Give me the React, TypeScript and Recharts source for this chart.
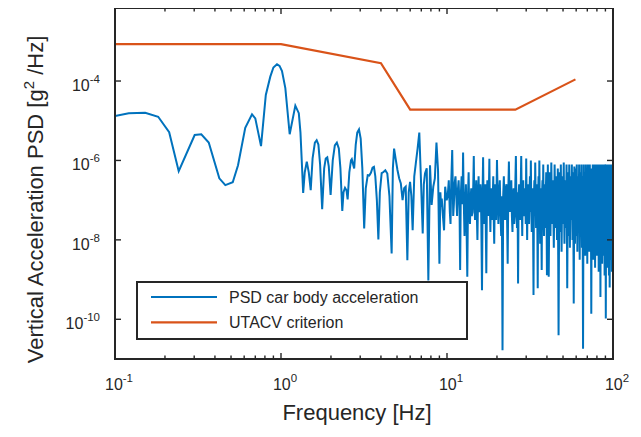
import React from 'react';
import { LineChart, Line, XAxis, YAxis, ReferenceArea } from 'recharts';

// PSD of car body vertical acceleration: [frequency (Hz), log10(PSD in g^2/Hz)]
const PSD_LOW: [number, number][] = [
  [0.1, -4.88], [0.121, -4.81], [0.152, -4.8], [0.182, -4.9], [0.212, -5.29], [0.242, -6.27],
  [0.302, -5.36], [0.331, -5.34], [0.367, -5.55], [0.425, -6.45], [0.462, -6.62], [0.512, -6.55],
  [0.551, -6.12], [0.609, -5.18], [0.669, -4.84], [0.7, -4.94], [0.758, -5.64], [0.81, -4.35],
  [0.862, -3.89], [0.9, -3.66], [0.946, -3.58], [0.98, -3.62], [1.014, -3.75], [1.062, -4.18],
  [1.128, -5.34], [1.22, -4.62],
];

const PSD_MID: [number, number][] = [
  [1.28, -4.81], [1.31, -5.3], [1.34, -6.2], [1.36, -6.82], [1.39, -6.3], [1.43, -6.03], [1.47, -6.3],
  [1.51, -6.75], [1.55, -5.95], [1.6, -5.55], [1.64, -5.49], [1.68, -5.6], [1.72, -6.1], [1.77, -7.23],
  [1.82, -6.2], [1.86, -5.95], [1.9, -5.92], [1.94, -6.15], [1.99, -6.87], [2.05, -6.0], [2.11, -5.62],
  [2.17, -5.55], [2.23, -5.7], [2.28, -6.2], [2.34, -7.27], [2.38, -6.8], [2.43, -6.69], [2.48, -6.75],
  [2.52, -6.98], [2.58, -6.3], [2.64, -6.0], [2.67, -5.97], [2.72, -6.1], [2.76, -6.2], [2.82, -5.6],
  [2.88, -5.3], [2.95, -5.22], [3.02, -5.45], [3.09, -6.2], [3.17, -7.71], [3.24, -6.7], [3.33, -6.37],
  [3.4, -6.38], [3.48, -6.31], [3.56, -6.18], [3.63, -6.16], [3.7, -6.4], [3.78, -7.0], [3.86, -7.99],
  [3.94, -6.8], [4.04, -6.32], [4.14, -6.29], [4.25, -6.25], [4.37, -6.33], [4.5, -6.9], [4.64, -8.34],
  [4.72, -6.2], [4.8, -5.7], [4.9, -5.95], [5.03, -6.24], [5.15, -6.45], [5.27, -6.58], [5.4, -7.0],
  [5.52, -6.7], [5.64, -6.66], [5.77, -8.51], [5.88, -6.8], [5.99, -6.54], [6.1, -6.9], [6.21, -7.76],
  [6.35, -6.4], [6.49, -6.07], [6.65, -5.7], [6.81, -5.3], [6.97, -6.5], [7.14, -7.84], [7.25, -6.6],
  [7.37, -6.33], [7.55, -6.2], [7.72, -9.02], [7.9, -6.12], [8.08, -7.12], [8.27, -6.66], [8.45, -6.45],
  [8.64, -5.55], [8.83, -6.24], [9.0, -8.6], [9.12, -6.8], [9.22, -7.17], [9.3, -6.96], [9.45, -7.4],
  [9.6, -7.76], [9.75, -6.66], [9.95, -7.0],
];

const PSD_HIGH: [number, number][] = [
  [10.1, -6.9], [10.25, -6.5], [10.4, -7.3], [10.5, -7.6], [10.6, -6.6], [10.75, -5.74], [10.9, -7.4],
  [11, -7.1], [11.1, -6.6], [11.25, -6.4], [11.4, -7.0], [11.5, -7.4], [11.6, -6.8], [11.75, -6.5],
  [11.9, -7.2], [12, -8.76], [12.1, -6.9], [12.25, -6.4], [12.4, -7.1], [12.5, -5.8], [12.6, -6.9],
  [12.75, -7.9], [12.9, -7.0], [13, -6.6], [13.1, -7.5], [13.25, -8.93], [13.4, -6.8], [13.5, -6.3],
  [13.6, -7.2], [13.75, -7.6], [13.9, -6.9], [14, -6.7], [14.1, -7.4], [14.25, -7.3], [14.4, -6.6],
  [14.5, -5.89], [14.6, -7.0], [14.75, -7.5], [14.9, -6.9], [15, -6.5], [15.1, -7.2], [15.25, -8.0],
  [15.4, -6.8], [15.5, -6.4], [15.6, -7.1], [15.75, -7.3], [15.9, -6.6], [16, -6.8], [16.1, -7.6],
  [16.25, -9.27], [16.4, -6.7], [16.5, -5.92], [16.6, -6.9], [16.75, -7.6], [16.9, -6.8], [17, -6.6],
  [17.1, -7.4], [17.25, -8.84], [17.4, -6.9], [17.5, -6.5], [17.6, -7.2], [17.75, -7.4], [17.9, -6.6],
  [18, -5.96], [18.1, -7.0], [18.25, -7.8], [18.4, -6.9], [18.5, -6.7], [18.6, -7.5], [18.75, -7.3],
  [18.9, -6.8], [19, -6.4], [19.1, -7.3], [19.25, -8.1], [19.4, -6.9], [19.5, -6.6], [19.6, -7.2],
  [19.75, -7.5], [19.9, -6.7],
  [20, -5.99], [20.2, -6.9], [20.4, -7.6], [20.6, -6.8], [20.8, -6.5], [21, -7.3], [21.2, -7.9],
  [21.4, -6.9], [21.6, -10.78], [21.8, -6.9], [22, -6.4], [22.2, -7.2], [22.4, -7.5], [22.6, -6.7],
  [22.8, -6.6], [23, -7.4], [23.2, -8.6], [23.4, -6.8], [23.6, -6.03], [23.8, -7.0], [24, -7.3],
  [24.2, -6.8], [24.4, -6.5], [24.6, -7.4], [24.8, -7.8], [25, -6.9], [25.2, -6.7], [25.4, -7.6],
  [25.6, -7.4], [25.8, -6.6], [26, -5.89], [26.2, -7.1], [26.4, -7.7], [26.6, -6.8], [26.8, -9.1],
  [27, -6.9], [27.2, -6.6], [27.4, -7.3], [27.6, -7.5], [27.8, -6.7], [28, -5.89], [28.2, -7.0],
  [28.4, -7.9], [28.6, -6.8], [28.8, -6.5], [29, -7.4], [29.2, -7.3], [29.4, -6.7], [29.6, -6.8],
  [29.8, -7.6], [30, -5.95], [30.2, -7.1], [30.4, -8.0], [30.6, -6.9], [30.8, -6.6], [31, -7.5],
  [31.2, -7.6], [31.4, -6.8], [31.6, -6.4], [31.8, -7.3], [32, -6.0], [32.2, -7.2], [32.4, -7.8],
  [32.6, -6.8], [32.8, -6.7], [33, -7.6], [33.2, -9.39], [33.4, -6.9], [33.6, -6.5], [33.8, -7.4],
  [34, -6.05], [34.2, -7.0], [34.4, -7.7], [34.6, -6.8], [34.8, -6.6], [35, -7.5], [35.2, -9.22],
  [35.4, -6.9], [35.6, -6.4], [35.8, -7.3], [36, -6.0], [36.2, -7.2], [36.4, -8.1], [36.6, -6.9],
  [36.8, -6.7], [37, -7.6], [37.2, -8.76], [37.4, -6.8], [37.6, -6.5], [37.8, -7.4], [38, -6.1],
  [38.2, -7.1], [38.4, -7.9], [38.6, -6.9], [38.8, -6.6], [39, -7.7], [39.2, -7.5], [39.4, -6.8],
  [39.6, -6.3], [39.8, -7.4],
  [40, -8.89], [40.5, -6.1], [41, -8.93], [41.5, -6.3], [42, -7.9], [42.5, -6.05], [43, -7.6],
  [43.5, -6.5], [44, -8.2], [44.5, -6.1], [45, -7.7], [45.5, -6.4], [46, -8.0], [46.5, -6.2],
  [47, -10.4], [47.5, -6.3], [48, -7.8], [48.5, -6.1], [49, -8.3], [49.5, -6.4], [50, -7.6],
  [50.5, -6.05], [51, -8.1], [51.5, -6.5], [52, -7.7], [52.5, -6.1], [53, -9.22], [53.5, -6.3],
  [54, -7.9], [54.5, -6.1], [55, -8.2], [55.5, -6.4], [56, -7.5], [56.5, -6.1], [57, -8.0],
  [57.5, -6.3], [58, -9.6], [58.5, -6.15], [59, -8.1], [59.5, -6.2], [60, -7.9], [60.5, -6.1],
  [61, -8.3], [61.5, -6.4], [62, -7.7], [62.5, -6.1], [63, -8.5], [63.5, -6.3], [64, -7.8],
  [64.5, -6.1], [65, -8.2], [65.5, -6.4], [66, -10.74], [66.5, -6.1], [67, -8.0], [67.5, -6.3],
  [68, -8.4], [68.5, -6.1], [69, -7.7], [69.5, -6.5], [70, -8.6], [70.5, -6.1], [71, -7.9],
  [71.5, -6.3], [72, -8.3], [72.5, -6.1], [73, -7.8], [73.5, -6.4], [74, -9.86], [74.5, -6.2],
  [75, -8.1], [75.5, -6.1], [76, -8.5], [76.5, -6.3], [77, -7.9], [77.5, -6.1], [78, -8.7],
  [78.5, -6.4], [79, -8.0], [79.5, -6.1], [80, -8.4], [80.5, -6.3], [81, -7.8], [81.5, -6.1],
  [82, -8.8], [82.5, -6.4], [83, -8.1], [83.5, -6.1], [84, -9.44], [84.5, -6.2], [85, -8.2],
  [85.5, -6.1], [86, -8.6], [86.5, -6.3], [87, -7.9], [87.5, -6.1], [88, -8.4], [88.5, -6.4],
  [89, -8.9], [89.5, -6.1], [90, -6.3], [90.5, -9.98], [91, -6.1], [91.5, -8.3], [92, -6.4],
  [92.5, -8.7], [93, -6.1], [93.5, -8.0], [94, -6.3], [94.5, -8.9], [95, -6.1], [95.5, -9.2],
  [96, -6.2], [96.5, -8.5], [97, -6.1], [97.5, -8.2], [98, -6.4], [98.5, -8.8], [99, -6.1],
  [99.5, -8.3], [100, -6.2],
];

// UTACV criterion
const UTACV_FREQ = [0.1, 1, 4, 6, 25.8, 59.4];
const UTACV_PSD = [8.5e-4, 8.5e-4, 2.8e-4, 1.9e-5, 1.9e-5, 1.1e-4];

const SERIES_NAMES = ['PSD car body acceleration', 'UTACV criterion'];
const X_TITLE = 'Frequency [Hz]';

const X_MAJOR = [0.1, 1, 10, 100];
const X_MINOR = [0.2, 0.3, 0.4, 0.5, 0.6, 0.7, 0.8, 0.9, 2, 3, 4, 5, 6, 7, 8, 9, 20, 30, 40, 50, 60, 70, 80, 90];
const Y_TICKS = [1e-10, 1e-8, 1e-6, 1e-4];
const X_DOMAIN: [number, number] = [0.1, 100];
const Y_DOMAIN: [number, number] = [1e-11, 6.9e-3];

const psdData = [...PSD_LOW, ...PSD_MID, ...PSD_HIGH].map(([f, e]) => ({ f, psd: Math.pow(10, e) }));
const utacvData = UTACV_FREQ.map((f, i) => ({ f, psd: UTACV_PSD[i] }));
const X_TICKS = [...X_MAJOR, ...X_MINOR].sort((a, b) => a - b);

// layout
const CHART_W = 625;
const CHART_H = 433;
const MARGIN = { top: 8, right: 20, bottom: 0, left: 0 };
const YAXIS_W = 107;
const XAXIS_H = 74;
const PLOT_W = CHART_W - MARGIN.left - MARGIN.right - YAXIS_W;
const PLOT_H = CHART_H - MARGIN.top - MARGIN.bottom - XAXIS_H;

const FONT = '"Liberation Sans", Arial, Helvetica, sans-serif';
const AX = '#262626';
const BLUE = '#0072BD';
const ORANGE = '#D95319';
const LEGEND_ROWS = [
  { name: SERIES_NAMES[0], color: BLUE },
  { name: SERIES_NAMES[1], color: ORANGE },
];

const expOf = (v: number) => Math.round(Math.log10(v));
const isMajorX = (v: number) => X_MAJOR.includes(v);

// Decorations anchored at the bottom-left corner of the plot box (x0, y0)
function Decorations({ x0, y0 }: { x0: number; y0: number }) {
  const top = y0 - PLOT_H;
  const lx = x0 + 22;
  const ly = y0 - 77;
  const ycx = x0 - 72;
  const ycy = y0 - PLOT_H / 2 + 16;
  return (
    <g>
      <path
        d={`M${x0},${top}L${x0 + PLOT_W},${top}L${x0 + PLOT_W},${y0}`}
        fill="none"
        stroke={AX}
        strokeWidth={2}
      />
      <text x={x0 + PLOT_W / 2 - 7} y={y0 + 61} textAnchor="middle" fontFamily={FONT} fontSize={22} fill={AX}>
        {X_TITLE}
      </text>
      <text x={ycx} y={ycy} transform={`rotate(-90 ${ycx} ${ycy})`} textAnchor="middle" fontFamily={FONT} fontSize={22} fill={AX}>
        <tspan>Vertical Acceleration PSD [g</tspan>
        <tspan dy={-9} fontSize={15}>2</tspan>
        <tspan dy={9}> /Hz]</tspan>
      </text>
      <rect x={lx} y={ly} width={330} height={57} fill="#ffffff" stroke={AX} strokeWidth={2} />
      {LEGEND_ROWS.map((r, i) => {
        const cy = ly + 15 + i * 25.3;
        return (
          <g key={r.name}>
            <line x1={lx + 14} x2={lx + 80} y1={cy} y2={cy} stroke={r.color} strokeWidth={2.2} />
            <text x={lx + 92} y={cy + 5.7} fontFamily={FONT} fontSize={16} fill={AX}>
              {r.name}
            </text>
          </g>
        );
      })}
    </g>
  );
}

// bottom axis tick: inward ticks on bottom and top edges, plus the label
function BottomTick(props: any) {
  const { x, y, payload, index } = props;
  const v = payload.value;
  const major = isMajorX(v);
  const len = major ? 6 : 3.5;
  const top = y - PLOT_H;
  return (
    <g>
      {index === 0 && <Decorations x0={x} y0={y} />}
      <line x1={x} x2={x} y1={y} y2={y - len} stroke={AX} strokeWidth={1.4} />
      <line x1={x} x2={x} y1={top} y2={top + len} stroke={AX} strokeWidth={1.4} />
      {major && (
        <text x={x + 4} y={y + 31} textAnchor="middle" fontFamily={FONT} fontSize={16} fill={AX}>
          <tspan>10</tspan>
          <tspan dy={-8} fontSize={11.5}>{expOf(v)}</tspan>
        </text>
      )}
    </g>
  );
}

// left axis tick: inward ticks on left and right edges, plus the label
function LeftTick(props: any) {
  const { x, y, payload } = props;
  return (
    <g>
      <line x1={x} x2={x + 6} y1={y} y2={y} stroke={AX} strokeWidth={1.4} />
      <line x1={x + PLOT_W} x2={x + PLOT_W - 6} y1={y} y2={y} stroke={AX} strokeWidth={1.4} />
      <text x={x - 15} y={y + 10} textAnchor="end" fontFamily={FONT} fontSize={16} fill={AX}>
        <tspan>10</tspan>
        <tspan dy={-8} fontSize={11.5}>{expOf(payload.value)}</tspan>
      </text>
    </g>
  );
}

export default function App() {
  return (
    <div style={{ position: 'relative', top: -8 }}>
      <LineChart width={CHART_W} height={CHART_H} margin={MARGIN}>
        <XAxis
          xAxisId="b"
          dataKey="f"
          type="number"
          scale="log"
          domain={X_DOMAIN}
          allowDataOverflow
          ticks={X_TICKS}
          interval={0}
          tickSize={0}
          tickMargin={0}
          tickLine={false}
          tick={<BottomTick />}
          axisLine={{ stroke: AX, strokeWidth: 2 }}
          height={XAXIS_H}
        />
        <YAxis
          yAxisId="l"
          type="number"
          scale="log"
          domain={Y_DOMAIN}
          allowDataOverflow
          ticks={Y_TICKS}
          interval={0}
          tickSize={0}
          tickMargin={0}
          tickLine={false}
          tick={<LeftTick />}
          axisLine={{ stroke: AX, strokeWidth: 2 }}
          width={YAXIS_W}
        />
        <Line
          xAxisId="b"
          yAxisId="l"
          data={psdData}
          dataKey="psd"
          name={SERIES_NAMES[0]}
          stroke={BLUE}
          strokeWidth={2}
          dot={false}
          type="linear"
          isAnimationActive={false}
        />
        <Line
          xAxisId="b"
          yAxisId="l"
          data={utacvData}
          dataKey="psd"
          name={SERIES_NAMES[1]}
          stroke={ORANGE}
          strokeWidth={2.2}
          dot={false}
          type="linear"
          isAnimationActive={false}
        />
        <ReferenceArea
          xAxisId="b"
          yAxisId="l"
          x1={X_DOMAIN[0]}
          x2={X_DOMAIN[1]}
          y1={Y_DOMAIN[0]}
          y2={Y_DOMAIN[1]}
          fill="#ffffff"
          fillOpacity={0}
          stroke={AX}
          strokeWidth={2}
          ifOverflow="visible"
        />
      </LineChart>
    </div>
  );
}
